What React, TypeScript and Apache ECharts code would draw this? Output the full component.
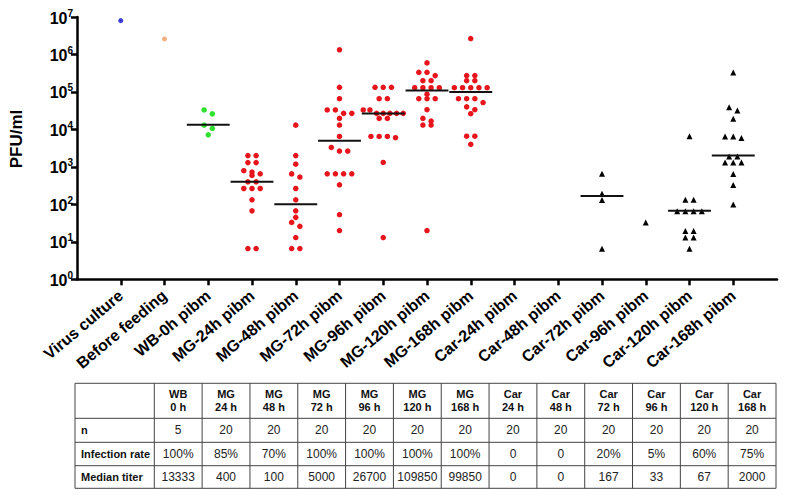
import React, { useEffect, useRef } from 'react';
import * as echarts from 'echarts';

// ---------- data ----------
const categories = [
  'Virus culture', 'Before feeding', 'WB-0h pibm', 'MG-24h pibm', 'MG-48h pibm',
  'MG-72h pibm', 'MG-96h pibm', 'MG-120h pibm', 'MG-168h pibm', 'Car-24h pibm',
  'Car-48h pibm', 'Car-72h pibm', 'Car-96h pibm', 'Car-120h pibm', 'Car-168h pibm',
];

const virusCulture = [8000000];
const beforeFeeding = [2600000];
const wb0h = [33000, 26000, 13000, 10700, 7200];
const mg24h = [2000, 2000, 1300, 1300, 790, 725, 655, 590, 400, 400, 265, 265, 265, 132, 67, 6.6, 6.6];
const mg48h = [13000, 2000, 1180, 650, 535, 265, 132, 67, 45, 33, 26, 13, 6.6, 6.6];
const mg72h = [1330000, 133000, 66000, 33000, 33000, 26800, 26800, 19700, 13100, 6500, 3300, 2650, 2650, 653, 653, 653, 653, 333, 53, 20];
const mg96h = [133000, 133000, 133000, 66000, 66000, 33000, 33000, 26800, 26800, 26800, 26800, 26800, 19700, 19700, 6500, 6500, 6500, 6000, 1310, 13];
const mg120h = [596000, 334000, 334000, 273000, 200000, 200000, 130000, 130000, 130000, 130000, 87000, 66000, 66000, 66000, 33600, 19700, 16700, 13100, 13100, 20];
const mg168h = [2660000, 273000, 273000, 200000, 200000, 130000, 130000, 130000, 130000, 130000, 66000, 66000, 66000, 52000, 40000, 33600, 26300, 6600, 6600, 4000];
const car24h: number[] = [];
const car48h: number[] = [];
const car72h = [653, 191, 130, 6.5];
const car96h = [33];
const car120h = [6600, 133, 133, 65, 65, 65, 65, 19.6, 19.6, 13, 13, 6.5];
const car168h = [328000, 39000, 32000, 19300, 6500, 6500, 5900, 1900, 1900, 1310, 1310, 1310, 645, 327, 99];

const groupValues = [
  virusCulture, beforeFeeding, wb0h, mg24h, mg48h, mg72h, mg96h, mg120h, mg168h,
  car24h, car48h, car72h, car96h, car120h, car168h,
];

const yTickValues = [1, 10, 100, 1000, 10000, 100000, 1000000, 10000000];

const tableHeaders = ['WB\n0 h', 'MG\n24 h', 'MG\n48 h', 'MG\n72 h', 'MG\n96 h', 'MG\n120 h', 'MG\n168 h',
  'Car\n24 h', 'Car\n48 h', 'Car\n72 h', 'Car\n96 h', 'Car\n120 h', 'Car\n168 h'];
const rowLabels = ['n', 'Infection rate', 'Median titer'];
const tableN = [5, 20, 20, 20, 20, 20, 20, 20, 20, 20, 20, 20, 20];
const infectionRate = ['100%', '85%', '70%', '100%', '100%', '100%', '100%', '0', '0', '20%', '5%', '60%', '75%'];
const medianTiter = [13333, 400, 100, 5000, 26700, 109850, 99850, 0, 0, 167, 33, 67, 2000];

// ---------- layout ----------
const W = 787;
const H = 499;
const GRID = { left: 77, top: 17, right: 10, bottom: 219.7 };
const X_MAX = categories.length + 1;
const plotW = W - GRID.left - GRID.right;
const pxPerUnit = plotW / X_MAX;
const FONT = '"Liberation Sans", Arial, sans-serif';

function swarm(values: number[], center: number) {
  const sorted = [...values].sort((a, b) => b - a);
  const rows: number[][] = [];
  sorted.forEach((v) => {
    const last = rows[rows.length - 1];
    if (last && Math.log10(last[0]) - Math.log10(v) <= 0.11) last.push(v);
    else rows.push([v]);
  });
  const out: number[][] = [];
  rows.forEach((row) => {
    const n = row.length;
    const sp = n > 1 ? Math.min(8.2, 40 / (n - 1)) : 0;
    row.forEach((v, k) => {
      out.push([center + ((k - (n - 1) / 2) * sp) / pxPerUnit, v]);
    });
  });
  return out;
}

function groupStyle(g: number) {
  if (g === 0) return { color: '#3b3bd6', symbol: 'circle', size: 5 };
  if (g === 1) return { color: '#f5b07f', symbol: 'circle', size: 5 };
  if (g === 2) return { color: '#2fe02f', symbol: 'circle', size: 5.5 };
  if (g <= 8) return { color: '#e8141b', symbol: 'circle', size: 5.5 };
  return { color: '#000000', symbol: 'triangle', size: 6 };
}

function buildTable() {
  const els: any[] = [];
  const TL = 75;
  const TR = 776;
  const colStart = 154.3;
  const colW = (TR - colStart) / tableHeaders.length;
  const rowY = [383.3, 418.3, 442.3, 465.7, 488.3];
  const stroke = '#444';
  rowY.forEach((y) => {
    els.push({ type: 'line', silent: true, shape: { x1: TL, y1: y, x2: TR, y2: y }, style: { stroke, lineWidth: 1 } });
  });
  const xs = [TL];
  for (let k = 0; k <= tableHeaders.length; k++) xs.push(colStart + k * colW);
  xs.forEach((x) => {
    els.push({ type: 'line', silent: true, shape: { x1: x, y1: rowY[0], x2: x, y2: rowY[rowY.length - 1] }, style: { stroke, lineWidth: 1 } });
  });
  tableHeaders.forEach((h, c) => {
    els.push({
      type: 'text', silent: true, x: colStart + (c + 0.5) * colW, y: (rowY[0] + rowY[1]) / 2,
      style: { text: h, fontSize: 11, fontWeight: 'bold', fontFamily: FONT, fill: '#111', align: 'center', verticalAlign: 'middle', lineHeight: 13 },
    });
  });
  const rows = [tableN.map(String), infectionRate, medianTiter.map(String)];
  rows.forEach((vals, r) => {
    const yc = (rowY[r + 1] + rowY[r + 2]) / 2;
    els.push({
      type: 'text', silent: true, x: 81, y: yc,
      style: { text: rowLabels[r], fontSize: 11, fontWeight: 'bold', fontFamily: FONT, fill: '#111', align: 'left', verticalAlign: 'middle' },
    });
    vals.forEach((v, c) => {
      els.push({
        type: 'text', silent: true, x: colStart + (c + 0.5) * colW, y: yc,
        style: { text: v, fontSize: 12, fontFamily: FONT, fill: '#222', align: 'center', verticalAlign: 'middle' },
      });
    });
  });
  return els;
}

export default function App() {
  const ref = useRef<HTMLDivElement>(null);
  useEffect(() => {
    if (!ref.current) return;
    const chart = echarts.init(ref.current, undefined, { renderer: 'svg' });
    const catPositions = categories.map((_, i) => i + 1);

    const scatterSeries = groupValues.map((vals, g) => {
      const st = groupStyle(g);
      return {
        type: 'scatter',
        name: categories[g],
        data: swarm(vals, g + 1),
        symbol: st.symbol,
        symbolSize: st.size,
        itemStyle: { color: st.color, opacity: 1 },
        z: 2,
        silent: true,
      };
    });

    const medianData: number[][] = [];
    groupValues.forEach((vals, g) => {
      if (vals.length > 1 && g >= 2) medianData.push([g + 1, medianTiter[g - 2]]);
    });

    const medianSeries = {
      type: 'custom',
      data: medianData,
      z: 5,
      silent: true,
      renderItem: (params: any, api: any) => {
        const x = api.value(0);
        const y = api.value(1);
        const p1 = api.coord([x - 0.49, y]);
        const p2 = api.coord([x + 0.49, y]);
        return {
          type: 'line',
          shape: { x1: p1[0], y1: p1[1], x2: p2[0], y2: p2[1] },
          style: { stroke: '#111', lineWidth: 2 },
        };
      },
    };

    chart.setOption({
      animation: false,
      backgroundColor: '#ffffff',
      grid: { left: GRID.left, top: GRID.top, right: GRID.right, bottom: GRID.bottom, containLabel: false },
      xAxis: {
        type: 'value',
        min: 0,
        max: X_MAX,
        interval: 1,
        axisLine: { show: true, onZero: false, lineStyle: { color: '#000', width: 2.5 } },
        axisTick: { show: true, customValues: catPositions, length: 6, lineStyle: { color: '#000', width: 2.5 } },
        axisLabel: {
          customValues: catPositions,
          formatter: (v: number) => categories[Math.round(v) - 1] || '',
          rotate: 40,
          fontSize: 16,
          fontWeight: 'bold',
          fontFamily: FONT,
          color: '#000',
          margin: 14,
        },
        splitLine: { show: false },
      },
      yAxis: {
        type: 'log',
        logBase: 10,
        min: yTickValues[0],
        max: yTickValues[yTickValues.length - 1],
        splitNumber: 7,
        axisLine: { show: true, lineStyle: { color: '#000', width: 2.5 } },
        axisTick: { show: true, length: 6, lineStyle: { color: '#000', width: 2.5 } },
        axisLabel: {
          margin: 4,
          formatter: (v: number) => `{b|10}{s|${Math.round(Math.log10(v))}}`,
          rich: {
            b: { fontSize: 16, fontWeight: 'bold', fontFamily: FONT, color: '#000', lineHeight: 18, verticalAlign: 'bottom' },
            s: { fontSize: 10, fontWeight: 'bold', fontFamily: FONT, color: '#000', lineHeight: 18, verticalAlign: 'top', padding: [0, 0, 7, 0] },
          },
        },
        splitLine: { show: false },
      },
      graphic: [
        {
          type: 'text', silent: true, x: 16, y: 139, rotation: Math.PI / 2,
          style: { text: 'PFU/ml', fontSize: 17, fontWeight: 'bold', fontFamily: FONT, fill: '#000', align: 'center', verticalAlign: 'middle' },
        },
        ...buildTable(),
      ],
      series: [...scatterSeries, medianSeries],
    });
    return () => chart.dispose();
  }, []);

  return (
    <div
      ref={ref}
      style={{ position: 'fixed', left: 0, top: 0, width: W, height: H, background: '#fff' }}
    />
  );
}
